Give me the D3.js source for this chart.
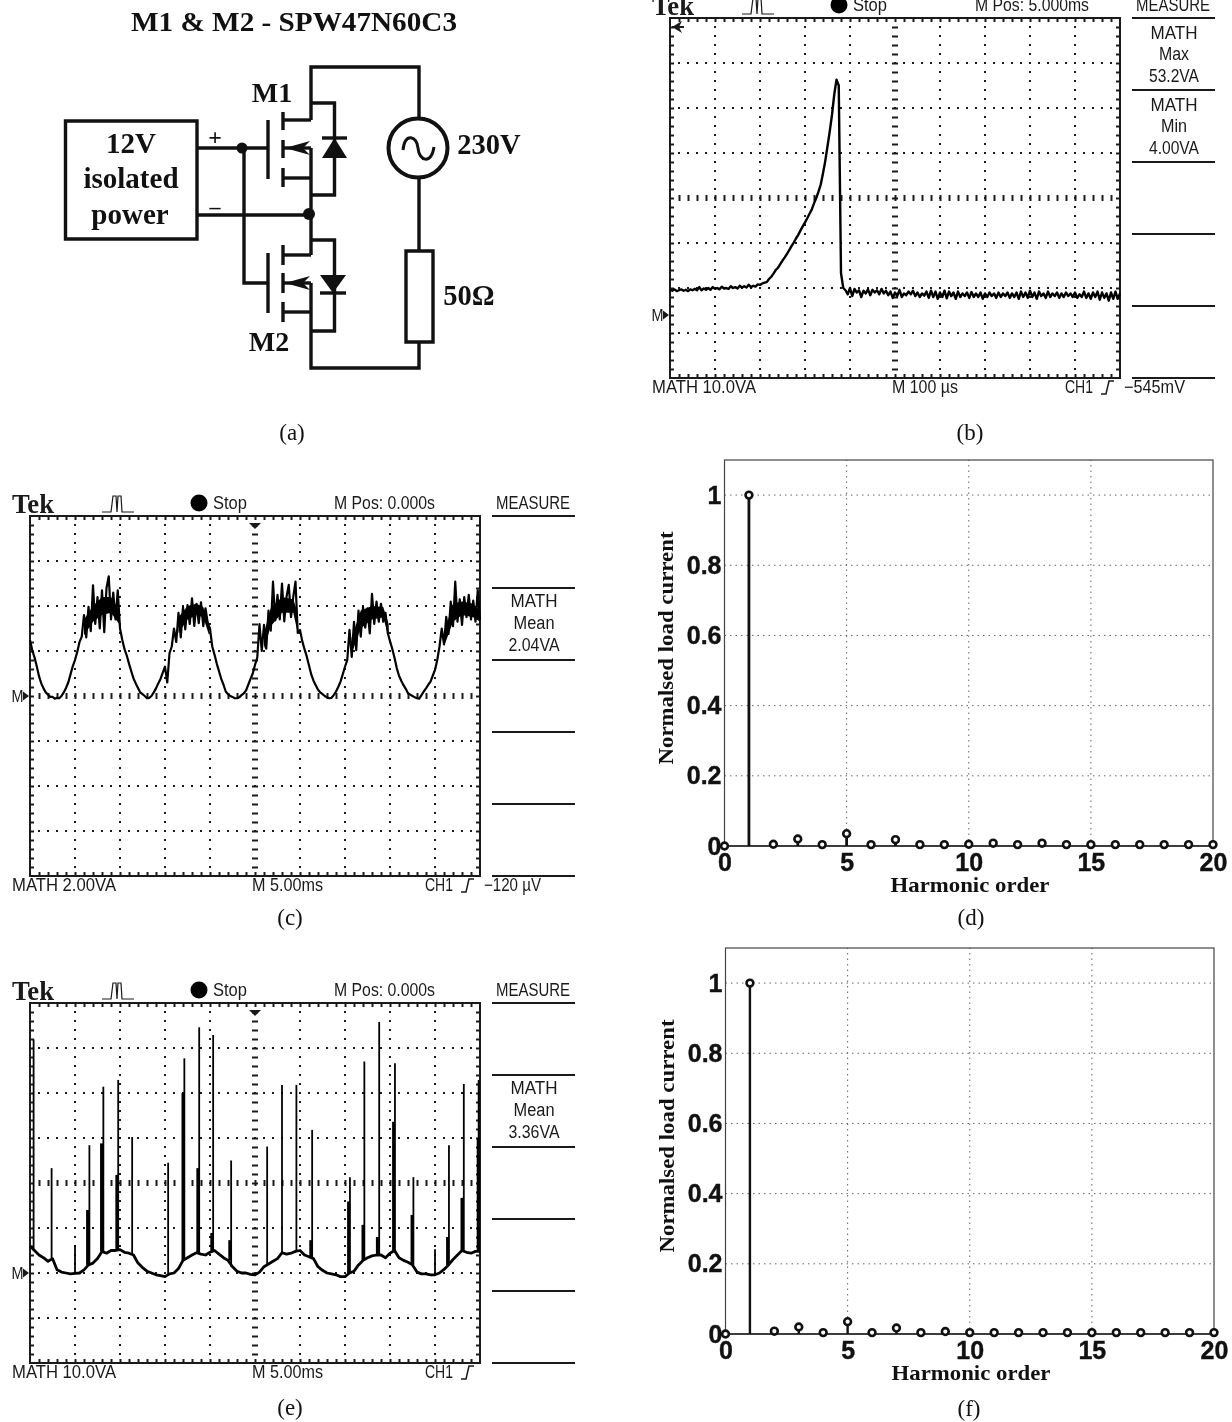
<!DOCTYPE html>
<html>
<head>
<meta charset="utf-8">
<script src="https://cdn.jsdelivr.net/npm/d3@7"></script>
<style>
  html, body { margin: 0; padding: 0; background: #fff; }
  svg { display: block; filter: blur(0.35px); }
</style>
</head>
<body>
<div id="chart"></div>
<script>
// traces are in scope divisions, -4..4 around the centre line, 10 divisions wide
const traceB = [-2.04,-2.06,-2.03,-2.07,-2.05,-2.03,-2.06,-2.04,-2.07,-2.03,-2.05,-2.02,-2.05,-1.98,-2.05,-2.01,-2.04,-2.0,-2.04,-1.98,
  -2.02,-2.0,-2.03,-1.97,-2.01,-2.0,-2.02,-1.96,-2.0,-1.98,-2.01,-1.95,-1.99,-1.96,-1.99,-1.93,-1.98,-1.95,-1.97,-1.92,
  -1.93,-1.9,-1.88,-1.87,-1.8,-1.75,-1.68,-1.6,-1.55,-1.47,-1.39,-1.32,-1.24,-1.16,-1.07,-0.99,-0.9,-0.82,-0.72,-0.63,
  -0.54,-0.45,-0.35,-0.26,-0.12,0,0.14,0.3,0.55,0.82,1.15,1.48,1.85,2.3,2.63,2.5,-1.67,-2.0,
  -2.05,-2.14,-2.0,-2.18,-2.02,-2.1,-2.05,-2.2,-2.06,-2.12,-2.03,-2.16,-2.04,-2.1,-2.05,-2.14,-2.02,-2.12,-2.06,-2.16,
  -2.08,-2.22,-2.1,-2.18,-2.04,-2.2,-2.12,-2.16,-2.08,-2.14,-2.06,-2.18,-2.1,-2.2,-2.12,-2.17,-2.08,-2.22,-2.06,-2.2,
  -2.08,-2.24,-2.1,-2.2,-2.06,-2.23,-2.08,-2.18,-2.1,-2.24,-2.08,-2.2,-2.12,-2.18,-2.1,-2.22,-2.09,-2.2,-2.12,-2.2,
  -2.1,-2.24,-2.12,-2.2,-2.1,-2.18,-2.12,-2.22,-2.1,-2.2,-2.12,-2.18,-2.1,-2.22,-2.12,-2.2,-2.1,-2.24,-2.08,-2.2,
  -2.1,-2.22,-2.06,-2.2,-2.1,-2.24,-2.08,-2.18,-2.12,-2.22,-2.08,-2.2,-2.12,-2.18,-2.1,-2.22,-2.12,-2.2,-2.1,-2.18,
  -2.12,-2.2,-2.1,-2.22,-2.14,-2.2,-2.08,-2.22,-2.12,-2.24,-2.1,-2.2,-2.08,-2.26,-2.1,-2.22,-2.12,-2.28,-2.1,-2.24,
  -2.08,-2.24,-2.12];

const traceC = [1.24,1.02,0.86,0.66,0.44,0.28,0.17,0.08,0.03,-0.02,-0.02,-0.06,-0.04,-0.05,0,0.08,0.18,0.3,0.48,0.66,
  0.8,0.98,1.2,1.32,1.8,1.3,1.98,1.44,2.46,1.6,2.2,1.5,2.35,1.42,2.4,2.66,1.7,2.3,1.7,2.35,
  1.5,1.25,1.04,0.9,0.72,0.55,0.39,0.28,0.18,0.08,0.04,0,-0.05,-0.04,0,0.08,0.17,0.28,0.38,0.52,
  0.65,0.3,0.95,1.1,1.5,1.2,1.85,1.3,1.98,1.48,2.02,1.6,2.17,1.56,2.05,1.62,2.08,1.55,1.95,1.62,
  1.5,1.1,0.92,0.72,0.55,0.38,0.25,0.1,0.04,0,-0.02,-0.05,-0.05,-0.03,0.02,0.06,0.12,0.25,0.38,0.5,
  0.69,0.85,1.6,1.0,1.58,1.05,1.9,1.45,2.54,1.68,2.25,1.7,2.5,1.66,2.2,2.47,1.75,2.2,2.54,1.4,
  1.47,1.22,1.04,0.88,0.68,0.48,0.34,0.24,0.14,0.08,0.04,0,-0.03,-0.05,-0.04,0.02,0.1,0.2,0.32,0.48,
  0.65,0.8,1.47,0.87,1.65,1.02,1.9,1.32,1.98,1.52,1.95,1.39,2.27,1.6,2.1,1.65,2.05,1.65,1.85,1.4,
  1.22,1.05,0.85,0.62,0.45,0.34,0.24,0.16,0.06,0.03,0,-0.03,-0.05,-0.06,0.02,0.1,0.17,0.25,0.32,0.45,
  0.58,0.8,1.1,1.5,1.15,1.76,1.38,2.1,1.55,2.54,1.65,2.15,1.58,2.2,1.75,2.25,1.7,2.12,1.65,2.35,1.69];

// solid part of the noise band on the humps of trace (c), null splits the humps
const coreCTimes = [1.2,1.4,1.6,1.8,1.98,null,3.3,3.5,3.7,3.85,3.98,null,5.2,5.35,5.6,5.85,5.95,null,7.15,7.35,7.6,7.85,7.97,null,9.2,9.4,9.6,9.85,10];
const coreCTop = [1.7,2.0,2.2,2.2,1.9,null,1.75,2.0,2.05,1.98,1.6,null,1.4,1.95,2.2,2.15,1.85,null,1.3,1.9,2.0,1.98,1.6,null,1.4,2.05,2.1,2.05,1.9];
const coreCBottom = [1.35,1.65,1.8,1.85,1.6,null,1.4,1.7,1.8,1.75,1.35,null,1.05,1.55,1.85,1.85,1.4,null,0.95,1.5,1.7,1.75,1.3,null,1.1,1.65,1.8,1.75,1.65];

const traceEBase = [-1.4,-1.5,-1.6,-1.66,-1.74,-1.68,-1.93,-1.98,-2.0,-2.02,-2.01,-2.0,-1.93,-1.82,-1.78,-1.68,-1.52,-1.56,-1.5,-1.5,
  -1.48,-1.54,-1.56,-1.6,-1.78,-1.88,-1.96,-2.0,-2.04,-2.06,-2.08,-2.02,-2.0,-1.9,-1.72,-1.66,-1.6,-1.55,-1.58,-1.6,
  -1.54,-1.5,-1.58,-1.66,-1.72,-1.86,-1.96,-2.0,-2.0,-2.03,-2.04,-1.98,-1.86,-1.8,-1.74,-1.68,-1.55,-1.58,-1.56,-1.52,
  -1.5,-1.6,-1.64,-1.68,-1.86,-1.94,-2.0,-2.02,-2.04,-2.08,-2.08,-2.0,-1.96,-1.82,-1.72,-1.66,-1.62,-1.6,-1.6,-1.66,
  -1.56,-1.5,-1.66,-1.72,-1.76,-1.82,-1.98,-2.02,-2.02,-2.04,-2.04,-2.0,-1.92,-1.82,-1.7,-1.6,-1.5,-1.54,-1.56,-1.52,-1.52];

// spikes of trace (e): thin tall ones and the thicker shorter ones next to them
const spikeTimes = [0.08,0.48,1.0,1.32,1.63,1.96,2.27,3.07,3.43,3.76,4.07,4.47,5.27,5.6,5.92,6.27,7.11,7.43,7.76,8.11,8.52,9.0,9.31,9.64,9.97];
const spikeTops = [3.19,0.33,-1.38,0.84,2.14,2.29,1.02,0.45,2.77,3.46,3.29,0.5,0.81,2.18,2.18,1.18,0.13,2.7,3.58,2.66,0.13,-1.47,0.84,2.2,2.29];
const burstTimes = [1.28,1.59,1.93,3.4,3.73,4.04,4.44,6.24,7.08,7.4,7.72,8.08,8.49,9.28,9.6,9.96];
const burstTops = [-0.6,0.88,0.18,2.0,0.33,-1.11,-1.27,-1.27,-0.41,-0.93,-1.2,1.36,-0.71,-1.2,-0.33,1.0];

// harmonic spectra
const harmonicOrder = d3.range(0, 21);
const harmonicsD = [0.0,1,0.005,0.02,0.004,0.035,0.004,0.018,0.004,0.004,0.005,0.008,0.004,0.008,0.004,0.004,0.004,0.004,0.004,0.004,0.004];
const harmonicsF = [0.0,1,0.008,0.02,0.004,0.035,0.004,0.017,0.004,0.007,0.004,0.004,0.004,0.004,0.004,0.004,0.004,0.004,0.004,0.004,0.004];
const stemXTicks = [0, 5, 10, 15, 20];
const stemYTicks = [0, 0.2, 0.4, 0.6, 0.8, 1];

const captions = ["(a)", "(b)", "(c)", "(d)", "(e)", "(f)"];
const serif = "'Liberation Serif', 'Times New Roman', serif";
const sans = "'Liberation Sans', Arial, sans-serif";

const svg = d3.select("#chart").append("svg")
    .attr("width", 1232)
    .attr("height", 1422);

function addText(g, x, y, str, size, opts) {
  opts = opts || {};
  const t = g.append("text")
      .attr("x", x)
      .attr("y", y)
      .attr("font-family", opts.family || serif)
      .attr("font-size", size)
      .attr("font-weight", opts.weight || "normal")
      .attr("text-anchor", opts.anchor || "middle")
      .attr("dominant-baseline", "central")
      .attr("fill", opts.fill || "#111")
      .text(str);
  if (opts.len) {
    t.attr("textLength", opts.len).attr("lengthAdjust", "spacingAndGlyphs");
  }
  return t;
}

// ---- captions
[[292, 432], [970, 432], [290, 917], [971, 917], [290, 1407], [969, 1408]].forEach(function(p, i) {
  addText(svg, p[0], p[1], captions[i], 23);
});

// ---- circuit (a)
function drawCircuit() {
  const g = svg.append("g");
  const bold = { weight: "bold" };
  addText(g, 294, 22, "M1 & M2 - SPW47N60C3", 27, { weight: "bold", len: 326 });

  const wires = [
    "M65.5 121H197V239H65.5Z",                       // power box
    "M197 148H268", "M197 215H311",                  // supply leads
    "M244 148V283H268",                              // gate tie
    "M311 120V67H419V118", "M419 178V251", "M419 342V368H311V312", // outer loop
    "M311 148V255", "M311 283V312",
    "M406 251H433V342H406Z",                         // load
    // M1
    "M268 120V179", "M283 112V130", "M283 140V158", "M283 168V187",
    "M283 120H311", "M283 148H311", "M283 178H311",
    "M311 103H334.5V195H311",
    // M2
    "M268 253V313", "M283 245V265", "M283 273V293", "M283 302V322",
    "M283 255H311", "M283 283H311", "M283 312H311",
    "M311 240H334.5V331H311",
    // diode bars
    "M322 138H347", "M320 293H346"
  ];
  g.selectAll("path.wire").data(wires).enter().append("path")
      .attr("class", "wire")
      .attr("d", d => d)
      .attr("fill", "none")
      .attr("stroke", "#111")
      .attr("stroke-width", 3.4);

  // diode triangles and the fet arrows
  ["M334.5 138L347 158H322Z", "M333 293L346 275H320Z", "M285 148L310 141L303 148L310 155Z", "M285 283L310 276L303 283L310 290Z"]
    .forEach(function(d) { g.append("path").attr("d", d).attr("fill", "#111"); });

  g.append("circle").attr("cx", 242).attr("cy", 148).attr("r", 5.5).attr("fill", "#111");
  g.append("circle").attr("cx", 309).attr("cy", 214).attr("r", 6).attr("fill", "#111");

  g.append("circle").attr("cx", 418).attr("cy", 148).attr("r", 29.5)
      .attr("fill", "#fff").attr("stroke", "#111").attr("stroke-width", 4);
  g.append("path").attr("d", "M403 150C405 132 417 136 418 148C419 161 431 165 434 147")
      .attr("fill", "none").attr("stroke", "#111").attr("stroke-width", 3);

  addText(g, 131, 143, "12V", 29, bold);
  addText(g, 131, 178, "isolated", 29, bold);
  addText(g, 130, 214, "power", 29, bold);
  addText(g, 215, 137, "+", 24, bold);
  addText(g, 215, 206, "–", 22, bold);
  addText(g, 272, 92, "M1", 28, bold);
  addText(g, 269, 341, "M2", 28, bold);
  addText(g, 489, 144, "230V", 28.5, bold);
  addText(g, 469, 295, "50Ω", 28.5, bold);
}
drawCircuit();

// ---- oscilloscope screens
function drawScope(cfg) {
  const x0 = cfg.x0, y0 = cfg.y0;
  const x = d3.scaleLinear().domain([0, 10]).range([x0, x0 + 450]);
  const y = d3.scaleLinear().domain([-4, 4]).range([y0 + 360, y0]);
  const g = svg.append("g");
  const ink = "#1a1a1a";
  const xMinor = d3.range(0, 50).map(d => d / 5).filter(d => d > 0);
  const yMinor = d3.range(0, 40).map(d => d / 5 - 4).filter(d => d > -4);

  // dotted graticule
  g.selectAll("path.vdots").data(d3.range(1, 10).filter(d => d !== 5)).enter().append("path")
      .attr("class", "vdots")
      .attr("d", d => d3.line()([[x(d), y(-4)], [x(d), y(4)]]))
      .attr("stroke", ink).attr("stroke-width", 2).attr("stroke-dasharray", "2 7").attr("stroke-dashoffset", 1);
  g.selectAll("path.hdots").data(d3.range(-3, 4).filter(d => d !== 0)).enter().append("path")
      .attr("class", "hdots")
      .attr("d", d => d3.line()([[x(0), y(d)], [x(10), y(d)]]))
      .attr("stroke", ink).attr("stroke-width", 2).attr("stroke-dasharray", "2 7").attr("stroke-dashoffset", 1);

  // edge and centre ticks
  const noLabel = () => "";
  function ticks(axis, tx, ty) {
    const a = g.append("g").attr("transform", "translate(" + tx + "," + ty + ")").call(axis);
    a.select(".domain").remove();
    a.selectAll("line").attr("stroke", ink).attr("stroke-width", 2);
  }
  ticks(d3.axisTop(x).tickValues(xMinor).tickFormat(noLabel).tickSize(-4), 0, y(4));
  ticks(d3.axisBottom(x).tickValues(xMinor).tickFormat(noLabel).tickSize(-4), 0, y(-4));
  ticks(d3.axisLeft(y).tickValues(yMinor).tickFormat(noLabel).tickSize(-4), x(0), 0);
  ticks(d3.axisRight(y).tickValues(yMinor).tickFormat(noLabel).tickSize(-4), x(10), 0);
  ticks(d3.axisLeft(y).tickValues(yMinor).tickFormat(noLabel).tickSize(6), x(5) + 3, 0);
  ticks(d3.axisBottom(x).tickValues(xMinor).tickFormat(noLabel).tickSize(6), 0, y(0) - 3);

  g.append("rect")
      .attr("x", x(0)).attr("y", y(4)).attr("width", x(10) - x(0)).attr("height", y(-4) - y(4))
      .attr("fill", "none").attr("stroke", ink).attr("stroke-width", 2);

  // trace
  cfg.draw(g, x, y);

  // ground marker
  const my = y(cfg.ground);
  addText(g, x0 - 12.5, my, "M", 17, { family: sans, len: 12, fill: ink });
  g.append("path").attr("d", d3.line()([[x0 - 7, my - 4.5], [x0 - 1, my], [x0 - 7, my + 4.5]]) + "Z").attr("fill", ink);

  // trigger marker
  if (cfg.pointer === "top") {
    g.append("path").attr("d", d3.line()([[x(5) - 6, y0 + 7], [x(5) + 6, y0 + 7], [x(5), y0 + 13]]) + "Z").attr("fill", ink);
  } else {
    g.append("path").attr("d", d3.line()([[x0 + 2, y0 + 9], [x0 + 12, y0 + 3], [x0 + 9, y0 + 9], [x0 + 12, y0 + 15]]) + "Z").attr("fill", ink);
    g.append("path").attr("d", d3.line()([[x0 + 2, y0 + 9], [x0 + 14, y0 + 9]])).attr("stroke", ink).attr("stroke-width", 2);
  }

  // header row
  const opt = (len, anchor) => ({ family: sans, len: len, anchor: anchor || "start", fill: ink });
  addText(g, x0 - 18, y0 - 12, "Tek", 27, { weight: "bold", len: 42, anchor: "start", fill: ink });
  g.append("path")
      .attr("d", d3.line()([[x0 + 72, y0 - 4], [x0 + 81, y0 - 4], [x0 + 83, y0 - 20], [x0 + 86, y0 - 20], [x0 + 87, y0 - 4], [x0 + 88, y0 - 20], [x0 + 91, y0 - 20], [x0 + 92, y0 - 4], [x0 + 104, y0 - 4]]))
      .attr("fill", "none").attr("stroke", ink).attr("stroke-width", 1.2);
  g.append("circle").attr("cx", x0 + 169).attr("cy", y0 - 13).attr("r", 8.5).attr("fill", "#000");
  addText(g, x0 + 183, y0 - 13, "Stop", 18, opt(34));
  addText(g, x0 + cfg.posX, y0 - 13, cfg.pos, 18, opt(cfg.posLen));
  addText(g, x0 + 503, y0 - 13, "MEASURE", 18, opt(74, "middle"));

  // measure column
  const panelX = d3.scaleLinear().domain([0, 1]).range([x0 + 462, x0 + 545]);
  g.selectAll("line.sep").data(d3.range(0, 6)).enter().append("line")
      .attr("class", "sep")
      .attr("x1", panelX(0)).attr("x2", panelX(1))
      .attr("y1", d => y(4) + d * 72).attr("y2", d => y(4) + d * 72)
      .attr("stroke", ink).attr("stroke-width", 1.8);
  cfg.measures.forEach(function(m) {
    addText(g, x0 + 504, y0 + m.dy, m.text, 18, opt(m.len, "middle"));
  });

  // footer row
  const fy = y0 + 369;
  addText(g, x0 - 18, fy, cfg.scale, 18, opt(104));
  addText(g, x0 + 222, fy, cfg.time, 18, opt(cfg.timeLen));
  addText(g, x0 + 395, fy, "CH1", 18, opt(28));
  g.append("path").attr("d", d3.line()([[x0 + 431, fy + 7], [x0 + 436, fy + 7], [x0 + 439, fy - 6], [x0 + 444, fy - 6]]))
      .attr("fill", "none").attr("stroke", ink).attr("stroke-width", 1.5);
  if (cfg.level) addText(g, x0 + 454, fy, cfg.level, 18, opt(cfg.levelLen));
}

function plotLine(g, x, y, values, width) {
  const line = d3.line()
      .x((d, i) => x(i * 10 / (values.length - 1)))
      .y(d => y(d));
  g.append("path")
      .attr("d", line(values))
      .attr("fill", "none")
      .attr("stroke", "#000")
      .attr("stroke-width", width)
      .attr("stroke-linejoin", "round");
}

drawScope({
  x0: 670, y0: 18, ground: -2.6, pointer: "left",
  pos: "M Pos: 5.000ms", posX: 305, posLen: 114,
  scale: "MATH 10.0VA", time: "M 100 µs", timeLen: 66, level: "−545mV", levelLen: 61,
  measures: [
    { dy: 15, text: "MATH", len: 47 }, { dy: 36, text: "Max", len: 30 }, { dy: 58, text: "53.2VA", len: 50 },
    { dy: 87, text: "MATH", len: 47 }, { dy: 108, text: "Min", len: 26 }, { dy: 130, text: "4.00VA", len: 50 }
  ],
  draw: (g, x, y) => plotLine(g, x, y, traceB, 2.4)
});

drawScope({
  x0: 30, y0: 516, ground: 0, pointer: "top",
  pos: "M Pos: 0.000s", posX: 304, posLen: 101,
  scale: "MATH 2.00VA", time: "M 5.00ms", timeLen: 71, level: "−120 µV", levelLen: 57,
  measures: [
    { dy: 85, text: "MATH", len: 47 }, { dy: 107, text: "Mean", len: 41 }, { dy: 129, text: "2.04VA", len: 51 }
  ],
  draw: function(g, x, y) {
    plotLine(g, x, y, traceC, 2.2);
    const band = d3.area()
        .defined(d => d !== null)
        .x(d => x(d))
        .y0((d, i) => y(coreCBottom[i]))
        .y1((d, i) => y(coreCTop[i]));
    g.append("path").attr("d", band(coreCTimes)).attr("fill", "#000");
  }
});

drawScope({
  x0: 30, y0: 1003, ground: -2, pointer: "top",
  pos: "M Pos: 0.000s", posX: 304, posLen: 101,
  scale: "MATH 10.0VA", time: "M 5.00ms", timeLen: 71,
  measures: [
    { dy: 85, text: "MATH", len: 47 }, { dy: 107, text: "Mean", len: 41 }, { dy: 129, text: "3.36VA", len: 51 }
  ],
  draw: function(g, x, y) {
    plotLine(g, x, y, traceEBase, 2.8);
    const baseAt = t => traceEBase[Math.round(t * 10)];
    g.selectAll("line.spike").data(spikeTimes).enter().append("line")
        .attr("class", "spike")
        .attr("x1", d => x(d)).attr("x2", d => x(d))
        .attr("y1", d => y(baseAt(d)))
        .attr("y2", (d, i) => y(spikeTops[i]))
        .attr("stroke", "#000").attr("stroke-width", 1.8);
    g.selectAll("line.burst").data(burstTimes).enter().append("line")
        .attr("class", "burst")
        .attr("x1", d => x(d)).attr("x2", d => x(d))
        .attr("y1", d => y(baseAt(d)))
        .attr("y2", (d, i) => y(burstTops[i]))
        .attr("stroke", "#000").attr("stroke-width", 3);
  }
});

// ---- harmonic stem plots
function drawStem(cfg) {
  const x = d3.scaleLinear().domain([0, 20]).range(cfg.xRange);
  const y = d3.scaleLinear().domain([0, 1.1]).range(cfg.yRange);
  const g = svg.append("g");
  const ink = "#111";

  g.selectAll("line.gx").data(stemXTicks.slice(1, -1)).enter().append("line")
      .attr("class", "gx")
      .attr("x1", d => x(d)).attr("x2", d => x(d))
      .attr("y1", y(0)).attr("y2", y(1.1))
      .attr("stroke", "#666").attr("stroke-dasharray", "1.5 4");
  g.selectAll("line.gy").data(stemYTicks.slice(1)).enter().append("line")
      .attr("class", "gy")
      .attr("x1", x(0)).attr("x2", x(20))
      .attr("y1", d => y(d)).attr("y2", d => y(d))
      .attr("stroke", "#666").attr("stroke-dasharray", "1.5 4");

  g.append("rect")
      .attr("x", x(0)).attr("y", y(1.1)).attr("width", x(20) - x(0)).attr("height", y(0) - y(1.1))
      .attr("fill", "none").attr("stroke", "#444").attr("stroke-width", 1.2);
  g.append("line")
      .attr("x1", x(0)).attr("x2", x(20)).attr("y1", y(0)).attr("y2", y(0))
      .attr("stroke", "#222").attr("stroke-width", 1.6);

  const ax = g.append("g").attr("transform", "translate(0," + y(0) + ")")
      .call(d3.axisBottom(x).tickValues(stemXTicks).tickFormat(d3.format("d")).tickSize(0).tickPadding(7));
  const ay = g.append("g").attr("transform", "translate(" + x(0) + ",0)")
      .call(d3.axisLeft(y).tickValues(stemYTicks).tickFormat(d3.format("")).tickSize(0).tickPadding(3));
  [ax, ay].forEach(function(a) {
    a.select(".domain").remove();
    a.selectAll("text")
        .attr("font-family", sans).attr("font-size", 25).attr("font-weight", "bold")
        .attr("fill", ink).attr("stroke", ink).attr("stroke-width", 0.4);
  });

  g.append("g").selectAll("line").data(cfg.values).enter().append("line")
      .attr("x1", (d, i) => x(harmonicOrder[i])).attr("x2", (d, i) => x(harmonicOrder[i]))
      .attr("y1", y(0)).attr("y2", d => y(d))
      .attr("stroke", ink).attr("stroke-width", cfg.stem);
  g.append("g").selectAll("circle").data(cfg.values).enter().append("circle")
      .attr("cx", (d, i) => x(harmonicOrder[i])).attr("cy", d => y(d)).attr("r", 3.4)
      .attr("fill", "#fff").attr("stroke", ink).attr("stroke-width", 2.6);

  addText(g, cfg.xLabel[0], cfg.xLabel[1], "Harmonic order", 21, { weight: "bold", len: 159 });
  addText(g, 0, 0, "Normalsed load current", 21, { weight: "bold", len: 233 })
      .attr("transform", "translate(" + cfg.yLabel[0] + "," + cfg.yLabel[1] + ") rotate(-90)");
}

drawStem({ xRange: [724.5, 1213], yRange: [846, 460], values: harmonicsD, stem: 2.8, xLabel: [970, 885], yLabel: [666, 648], });
drawStem({ xRange: [725.5, 1214], yRange: [1334, 948], values: harmonicsF, stem: 2.4, xLabel: [971, 1373], yLabel: [667, 1136] });
</script>
</body>
</html>
